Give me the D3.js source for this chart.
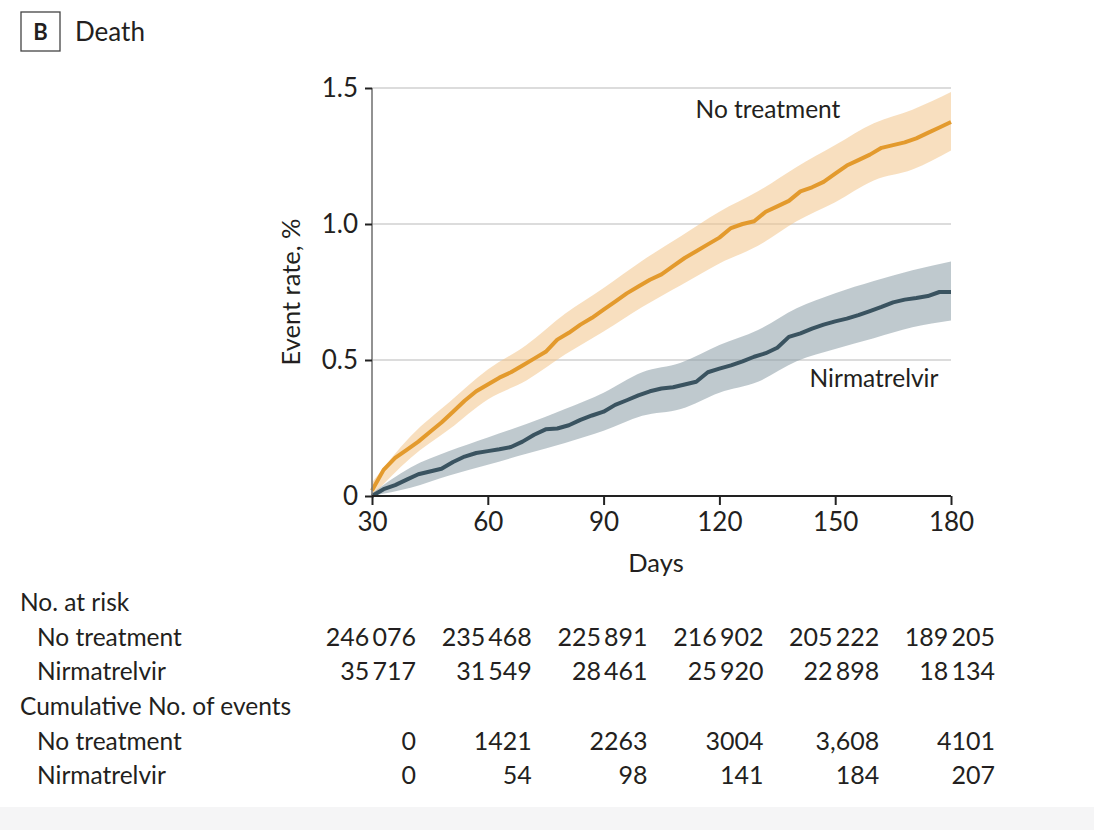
<!DOCTYPE html>
<html>
<head>
<meta charset="utf-8">
<script src="https://cdn.jsdelivr.net/npm/d3@7"></script>
<style>
  body { margin: 0; background: #fff; }
  text { font-family: Lato, "Noto Sans", sans-serif; fill: #231f20; }
</style>
</head>
<body>
<div id="chart"></div>
<script>
// ---- data ----
// curves, every 3 days
var lineDays = d3.range(30, 181, 3);
var noTreatment = [0.02, 0.096, 0.14, 0.17, 0.20, 0.235, 0.27, 0.31, 0.35, 0.385, 0.41,
  0.435, 0.455, 0.48, 0.505, 0.53, 0.575, 0.60, 0.63, 0.655, 0.685, 0.715, 0.745, 0.77,
  0.795, 0.815, 0.845, 0.875, 0.90, 0.925, 0.95, 0.985, 1.0, 1.01, 1.045, 1.065, 1.085,
  1.12, 1.135, 1.155, 1.185, 1.215, 1.235, 1.255, 1.28, 1.29, 1.30, 1.315, 1.335, 1.355, 1.375];
var nirmatrelvir = [0.0, 0.025, 0.04, 0.06, 0.08, 0.09, 0.10, 0.125, 0.145, 0.158, 0.165,
  0.172, 0.18, 0.20, 0.225, 0.245, 0.248, 0.26, 0.28, 0.296, 0.31, 0.335, 0.352, 0.37,
  0.385, 0.395, 0.40, 0.41, 0.42, 0.455, 0.468, 0.48, 0.495, 0.512, 0.525, 0.545, 0.585,
  0.598, 0.615, 0.63, 0.642, 0.652, 0.665, 0.68, 0.695, 0.712, 0.722, 0.728, 0.735, 0.75, 0.75];

// confidence bands, every 10 days
var bandDays = d3.range(30, 181, 10);
var noTreatmentHi = [0.05, 0.22, 0.345, 0.465, 0.555, 0.67, 0.765, 0.865, 0.955, 1.045, 1.12, 1.21, 1.29, 1.37, 1.42, 1.485];
var noTreatmentLo = [0.0, 0.14, 0.245, 0.355, 0.425, 0.52, 0.605, 0.695, 0.775, 0.855, 0.92, 1.01, 1.08, 1.16, 1.20, 1.27];
var nirmatrelvirHi = [0.01, 0.105, 0.165, 0.215, 0.265, 0.32, 0.38, 0.455, 0.49, 0.555, 0.61, 0.69, 0.745, 0.79, 0.83, 0.862];
var nirmatrelvirLo = [0.0, 0.03, 0.075, 0.115, 0.155, 0.195, 0.24, 0.295, 0.32, 0.38, 0.42, 0.495, 0.54, 0.58, 0.62, 0.645];

// axes ticks
var xTicks = [30, 60, 90, 120, 150, 180];
var yTicks = [0, 0.5, 1.0, 1.5];
var yTickLabels = ["0", "0.5", "1.0", "1.5"];

// risk table
var atRiskNoTreatment = ["246\u2009076", "235\u2009468", "225\u2009891", "216\u2009902", "205\u2009222", "189\u2009205"];
var atRiskNirmatrelvir = ["35\u2009717", "31\u2009549", "28\u2009461", "25\u2009920", "22\u2009898", "18\u2009134"];
var eventsNoTreatment = ["0", "1421", "2263", "3004", "3,608", "4101"];
var eventsNirmatrelvir = ["0", "54", "98", "141", "184", "207"];

// ---- canvas ----
var W = 1094, H = 830;
var fs = "24.5px";
var svg = d3.select("#chart").append("svg")
    .attr("width", W).attr("height", H);

// faint strip at the bottom of the page
svg.append("rect").attr("x", 0).attr("y", 807).attr("width", W).attr("height", 23)
    .attr("fill", "#f5f5f6");

var xScale = d3.scaleLinear().domain([30, 180]).range([372, 951]);
var yScale = d3.scaleLinear().domain([0, 1.5]).range([496, 88]);

// panel label
svg.append("rect").attr("x", 21).attr("y", 12).attr("width", 39).attr("height", 39)
    .attr("fill", "none").attr("stroke", "#444").attr("stroke-width", 1.3);
svg.append("text").attr("x", 40.5).attr("y", 40).attr("text-anchor", "middle")
    .style("font-size", "22px").style("font-weight", "bold").text("B");
svg.append("text").attr("x", 75).attr("y", 41)
    .style("font-size", "26px").text("Death");

// gridlines
svg.append("g").selectAll("line")
    .data(yTicks.filter(d => d > 0))
    .enter().append("line")
    .attr("x1", xScale(30)).attr("x2", xScale(180))
    .attr("y1", d => yScale(d)).attr("y2", d => yScale(d))
    .attr("stroke", "#dcdcdc").attr("stroke-width", 2.2);

// bands
var area = d3.area()
    .x(d => xScale(d.day)).y0(d => yScale(d.lo)).y1(d => yScale(d.hi))
    .curve(d3.curveMonotoneX);
var bandA = bandDays.map((d, i) => ({day: d, lo: noTreatmentLo[i], hi: noTreatmentHi[i]}));
var bandB = bandDays.map((d, i) => ({day: d, lo: nirmatrelvirLo[i], hi: nirmatrelvirHi[i]}));

svg.append("path").datum(bandA).attr("d", area)
    .attr("fill", "#f3c58a").attr("fill-opacity", 0.55);
svg.append("path").datum(bandB).attr("d", area)
    .attr("fill", "#8a9ca6").attr("fill-opacity", 0.55);

// curves
var line = d3.line()
    .x(d => xScale(d.day)).y(d => yScale(d.v));
svg.append("path")
    .datum(lineDays.map((d, i) => ({day: d, v: noTreatment[i]})))
    .attr("d", line).attr("fill", "none")
    .attr("stroke", "#e39a2d").attr("stroke-width", 4).attr("stroke-linejoin", "round");
svg.append("path")
    .datum(lineDays.map((d, i) => ({day: d, v: nirmatrelvir[i]})))
    .attr("d", line).attr("fill", "none")
    .attr("stroke", "#3a5360").attr("stroke-width", 4).attr("stroke-linejoin", "round");

// y axis
var yAxis = d3.axisLeft(yScale).tickValues(yTicks)
    .tickFormat((d, i) => yTickLabels[i]).tickSize(7).tickPadding(7);
var gy = svg.append("g").attr("transform", "translate(" + xScale(30) + ",0)").call(yAxis);
gy.select(".domain").attr("stroke", "#777").attr("stroke-width", 1.6).attr("d", "M0," + yScale(1.5) + "V" + yScale(0));
gy.selectAll(".tick line").attr("stroke", "#222").attr("stroke-width", 2);
gy.selectAll(".tick text").style("font-size", "26px").attr("fill", "#231f20")
    .style("font-family", "Lato, 'Noto Sans', sans-serif");

// x axis
var xAxis = d3.axisBottom(xScale).tickValues(xTicks).tickSize(9).tickPadding(8);
var gx = svg.append("g").attr("transform", "translate(0," + yScale(0) + ")").call(xAxis);
gx.select(".domain").attr("stroke", "#222").attr("stroke-width", 2).attr("d", "M" + xScale(30) + ",0H" + xScale(180));
gx.selectAll(".tick line").attr("stroke", "#222").attr("stroke-width", 2);
gx.selectAll(".tick text").style("font-size", "26px").attr("fill", "#231f20")
    .style("font-family", "Lato, 'Noto Sans', sans-serif");

// axis titles
svg.append("text")
    .attr("transform", "translate(300," + ((yScale(0) + yScale(1.5)) / 2) + ") rotate(-90)")
    .attr("text-anchor", "middle").style("font-size", "25.5px").text("Event rate, %");
svg.append("text").attr("x", 656).attr("y", 572)
    .attr("text-anchor", "middle").style("font-size", "25.5px").text("Days");

// series labels
svg.append("text").attr("x", 768).attr("y", 118).attr("text-anchor", "middle")
    .style("font-size", fs).text("No treatment");
svg.append("text").attr("x", 874).attr("y", 387).attr("text-anchor", "middle")
    .style("font-size", fs).text("Nirmatrelvir");

// risk table
var rows = [
  {label: "No. at risk", x: 20, y: 611, vals: null},
  {label: "No treatment", x: 37, y: 646, vals: atRiskNoTreatment},
  {label: "Nirmatrelvir", x: 37, y: 680, vals: atRiskNirmatrelvir},
  {label: "Cumulative No. of events", x: 20, y: 715, vals: null},
  {label: "No treatment", x: 37, y: 750, vals: eventsNoTreatment},
  {label: "Nirmatrelvir", x: 37, y: 784, vals: eventsNirmatrelvir}
];
rows.forEach(r => {
  svg.append("text").attr("x", r.x).attr("y", r.y).style("font-size", fs).text(r.label);
  if (r.vals) {
    svg.append("g").selectAll("text").data(r.vals).enter().append("text")
      .attr("x", (d, i) => xScale(xTicks[i]) + 44)
      .attr("y", r.y).attr("text-anchor", "end")
      .style("font-size", "25px").text(d => d);
  }
});
</script>
</body>
</html>
